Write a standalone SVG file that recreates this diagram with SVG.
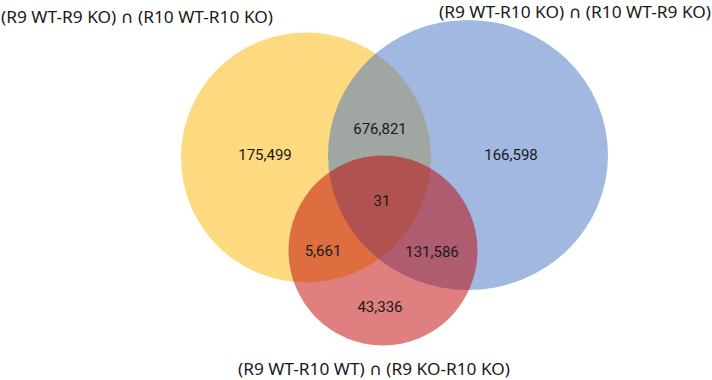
<svg xmlns="http://www.w3.org/2000/svg" width="712" height="380" viewBox="0 0 712 380">
<style>
.set{fill-opacity:0.5;stroke:none}
.num{font-family:Roboto,"Liberation Sans",sans-serif;font-size:15px;fill:#1a1a1a;text-anchor:middle}
.lbl{font-family:"Noto Sans","Open Sans","DejaVu Sans",sans-serif;font-size:16.5px;fill:#1a1a1a}
</style>
<rect width="712" height="380" fill="#ffffff"/>
<g id="set-a">
<circle class="set" cx="306" cy="157.5" r="125" fill="#FBB500"/>
<text class="lbl" x="1" y="23" textLength="272" lengthAdjust="spacingAndGlyphs">(R9 WT-R9 KO) ∩ (R10 WT-R10 KO)</text>
</g>
<g id="set-b">
<ellipse class="set" cx="468" cy="155" rx="140" ry="135" fill="#4472C4"/>
<text class="lbl" x="439" y="17.5" textLength="272" lengthAdjust="spacingAndGlyphs">(R9 WT-R10 KO) ∩ (R10 WT-R9 KO)</text>
</g>
<g id="set-c">
<ellipse class="set" cx="383" cy="250.5" rx="94.5" ry="95" fill="#C00000"/>
<text class="lbl" x="238" y="375" textLength="272" lengthAdjust="spacingAndGlyphs">(R9 WT-R10 WT) ∩ (R9 KO-R10 KO)</text>
</g>
<g id="counts">
<text class="num" x="265" y="160">175,499</text>
<text class="num" x="380" y="134">676,821</text>
<text class="num" x="511" y="160">166,598</text>
<text class="num" x="382" y="206">31</text>
<text class="num" x="323" y="256">5,661</text>
<text class="num" x="432" y="257">131,586</text>
<text class="num" x="380" y="312">43,336</text>
</g>
<g id="connectors"/>
</svg>
